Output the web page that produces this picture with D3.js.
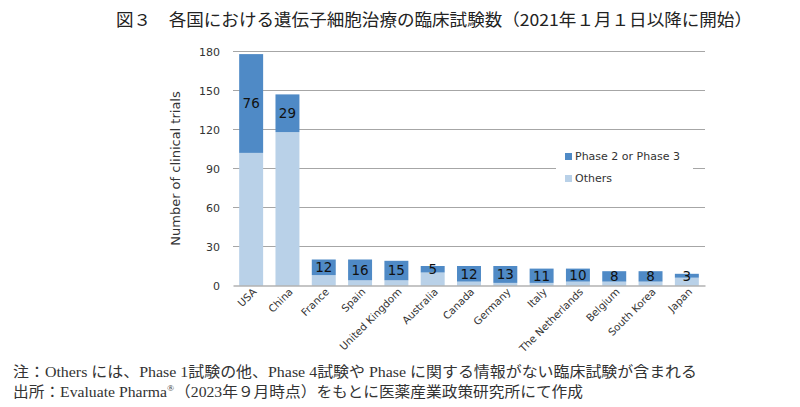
<!DOCTYPE html>
<html>
<head>
<meta charset="utf-8">
<script src="https://cdn.jsdelivr.net/npm/d3@7"></script>
<style>
  body { margin: 0; background: #fff; }
  svg { display: block; }
</style>
</head>
<body>
<div id="wrapper"></div>
<script>
const countries = ['USA', 'China', 'France', 'Spain', 'United Kingdom', 'Australia', 'Canada',
  'Germany', 'Italy', 'The Netherlands', 'Belgium', 'South Korea', 'Japan']
const others = [102, 118, 8, 4, 4, 10, 3, 2, 2, 3, 3, 3, 6]
const phase23 = [76, 29, 12, 16, 15, 5, 12, 13, 11, 10, 8, 8, 3]
const yTicks = [0, 30, 60, 90, 120, 150, 180]

const seriesNames = ['Others', 'Phase 2 or Phase 3']
const colors = { 'Others': '#b9d1e8', 'Phase 2 or Phase 3': '#4f8ac6' }

const width = 800
const height = 407
const margin = { top: 51.5, right: 95, bottom: 121.5, left: 233 }
const boundedWidth = width - margin.left - margin.right
const boundedHeight = height - margin.top - margin.bottom

const svg = d3.select('#wrapper').append('svg')
    .attr('width', width)
    .attr('height', height)

// title
svg.append('text')
    .attr('x', 116)
    .attr('y', 26)
    .attr('font-family', '"Noto Sans CJK JP", sans-serif')
    .attr('font-size', 16.5)
    .attr('fill', '#222')
    .attr('textLength', 636)
    .attr('lengthAdjust', 'spacingAndGlyphs')
    .text('図３　各国における遺伝子細胞治療の臨床試験数（2021年１月１日以降に開始）')

const bounds = svg.append('g')
    .attr('transform', `translate(${margin.left}, ${margin.top})`)

const table = countries.map((c, i) => ({ country: c, 'Others': others[i], 'Phase 2 or Phase 3': phase23[i] }))
const stacked = d3.stack().keys(seriesNames)(table)

const x = d3.scaleBand()
    .domain(countries)
    .range([0, boundedWidth])
    .paddingInner(0.34)
    .paddingOuter(0.17)

const y = d3.scaleLinear()
    .domain([0, 180])
    .range([boundedHeight, 0])

// grid lines
bounds.append('g')
  .selectAll('line')
  .data(yTicks.filter(d => d > 0))
  .join('line')
    .attr('x1', 0)
    .attr('x2', boundedWidth)
    .attr('y1', d => y(d))
    .attr('y2', d => y(d))
    .attr('stroke', '#a6a6a6')
    .attr('stroke-width', 1)

// y axis
const yAxis = bounds.append('g')
    .call(d3.axisLeft(y).tickValues(yTicks).tickSize(0).tickPadding(13))
yAxis.select('.domain').remove()
yAxis.selectAll('text')
    .attr('font-family', '"DejaVu Sans", Verdana, sans-serif')
    .attr('font-size', 11)
    .attr('fill', '#333')

// bars
bounds.append('g')
  .selectAll('g')
  .data(stacked)
  .join('g')
    .attr('fill', d => colors[d.key])
  .selectAll('rect')
  .data(d => d)
  .join('rect')
    .attr('x', d => x(d.data.country))
    .attr('y', d => y(d[1]))
    .attr('width', x.bandwidth())
    .attr('height', d => y(d[0]) - y(d[1]))

// value labels on phase 2/3 segment
bounds.append('g')
  .selectAll('text')
  .data(stacked[1])
  .join('text')
    .attr('x', d => x(d.data.country) + x.bandwidth() / 2)
    .attr('y', d => (y(d[0]) + y(d[1])) / 2)
    .attr('dy', '0.36em')
    .attr('text-anchor', 'middle')
    .attr('font-family', '"DejaVu Sans", Verdana, sans-serif')
    .attr('font-size', 13.5)
    .attr('fill', '#111')
    .text(d => d[1] - d[0])

// x axis
const xAxis = bounds.append('g')
    .attr('transform', `translate(0, ${boundedHeight})`)
    .call(d3.axisBottom(x).tickSize(0).tickPadding(0))
xAxis.select('.domain')
    .attr('stroke', '#8c8c8c')
    .attr('stroke-width', 1.2)
xAxis.selectAll('text')
    .attr('font-family', '"DejaVu Sans", Verdana, sans-serif')
    .attr('font-size', 10.3)
    .attr('fill', '#333')
    .attr('text-anchor', 'end')
    .attr('dy', 0)
    .attr('transform', 'translate(6, 7) rotate(-45)')

// y axis label
svg.append('text')
    .attr('transform', `translate(180, ${margin.top + boundedHeight / 2}) rotate(-90)`)
    .attr('text-anchor', 'middle')
    .attr('font-family', '"DejaVu Sans", Verdana, sans-serif')
    .attr('font-size', 13)
    .attr('fill', '#333')
    .text('Number of clinical trials')

// legend
const legend = svg.append('g')
    .attr('transform', 'translate(556, 143)')
legend.append('rect')
    .attr('width', 137)
    .attr('height', 48)
    .attr('fill', '#fff')
const legendItems = legend.selectAll('g')
  .data(seriesNames.slice().reverse())
  .join('g')
    .attr('transform', (d, i) => `translate(9, ${10 + i * 22})`)
legendItems.append('rect')
    .attr('width', 7)
    .attr('height', 7)
    .attr('fill', d => colors[d])
legendItems.append('text')
    .attr('x', 10)
    .attr('y', 3.5)
    .attr('dy', '0.36em')
    .attr('font-family', '"DejaVu Sans", Verdana, sans-serif')
    .attr('font-size', 11)
    .attr('fill', '#333')
    .text(d => d)

// notes
const noteFont = '"Liberation Serif", "Noto Sans CJK JP", serif'
svg.append('text')
    .attr('x', 13)
    .attr('y', 377)
    .attr('font-family', noteFont)
    .attr('font-size', 15)
    .attr('fill', '#333')
    .attr('textLength', 684)
    .attr('lengthAdjust', 'spacingAndGlyphs')
    .text('注：Others には、Phase 1試験の他、Phase 4試験や Phase に関する情報がない臨床試験が含まれる')

const source = svg.append('text')
    .attr('x', 13)
    .attr('y', 397)
    .attr('font-family', noteFont)
    .attr('font-size', 15)
    .attr('fill', '#333')
    .attr('textLength', 570)
    .attr('lengthAdjust', 'spacingAndGlyphs')
source.append('tspan').text('出所：Evaluate Pharma')
source.append('tspan')
    .attr('font-size', 9)
    .attr('dy', -6)
    .text('®')
source.append('tspan')
    .attr('dy', 6)
    .attr('dx', 1)
    .text('（2023年９月時点）をもとに医薬産業政策研究所にて作成')
</script>
</body>
</html>
